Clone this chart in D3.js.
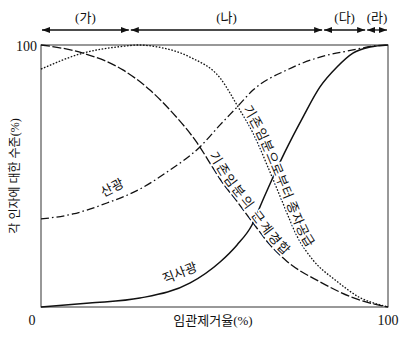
<!DOCTYPE html>
<html>
<head>
<meta charset="utf-8">
<script src="https://cdn.jsdelivr.net/npm/d3@7"></script>
<style>
    body { margin: 0; background: #fff; }
    svg { display: block; }
    text { font-family: "Liberation Serif", "Noto Sans CJK KR", serif; fill: #111; }
</style>
</head>
<body>
<svg id="grafico" width="406" height="337"></svg>
<script>
"use strict";

// 직사광 (실선)
var directLight = [[0, 0], [14, 1.5], [28.5, 3.4], [43, 9.2], [51.6, 17.2], [56.5, 23.7],
    [60.8, 31.3], [63.7, 40.1], [66.9, 49.6], [70.3, 59.2], [75.5, 72.5], [80.4, 84],
    [85.3, 91.6], [89.9, 96.9], [94.8, 99.2], [100, 100]];

// 산광 (일점쇄선)
var diffuseLight = [[0, 33.6], [9.2, 35.5], [19, 39.7], [28.5, 45], [36.3, 51.5], [45.8, 61.1],
    [51.6, 69.5], [56.5, 76.3], [61.1, 82.8], [70.9, 90.5], [80.4, 95.4], [89.9, 98.1],
    [95.7, 99.6], [100, 100]];

// 기존임분의 근계경합 (파선)
var rootCompetition = [[0, 100], [12.1, 96.9], [23.6, 90.5], [31.4, 82.8], [38, 74], [45, 62.6],
    [49.6, 53], [51.6, 48.8], [56.5, 40.3], [61.1, 32.1], [66, 23.7], [70.9, 17.4],
    [80.4, 9.6], [89.9, 3.6], [97.7, 0.6], [100, 0]];

// 기존임분으로부터 종자공급 (점선)
var seedSupply = [[0, 90.8], [12.1, 96.9], [23.6, 99.5], [28, 100], [33.4, 99.3], [42.9, 95.4],
    [51.6, 87.4], [57.3, 75.2], [61.1, 66.4], [66, 51.5], [69.7, 39.7], [73.8, 27],
    [78.4, 17.9], [85.3, 9.8], [91.9, 3.6], [98.6, 0.5], [100, 0]];

// 상단 구간 (가)~(라)
var regionBounds = [0, 25.6, 81.3, 93.7, 100];
var regionLabels = ["(가)", "(나)", "(다)", "(라)"];

var xTicks = [0, 100];
var yTicks = [100];

var svg = d3.select("#grafico");

var x = d3.scaleLinear().domain([0, 100]).range([41, 388]);
var y = d3.scaleLinear().domain([0, 100]).range([307, 45]);

// marcador de seta
var defs = svg.append("defs");
defs.append("marker")
    .attr("id", "seta")
    .attr("viewBox", "0 -4 8 8")
    .attr("markerUnits", "userSpaceOnUse")
    .attr("markerWidth", 8)
    .attr("markerHeight", 8)
    .attr("refX", 8)
    .attr("refY", 0)
    .attr("orient", "auto-start-reverse")
    .append("path")
    .attr("d", "M0,-3L8,0L0,3Z")
    .attr("fill", "#111");

// moldura
svg.append("rect")
    .attr("x", x(0))
    .attr("y", y(100))
    .attr("width", x(100) - x(0))
    .attr("height", y(0) - y(100))
    .attr("fill", "none")
    .attr("stroke", "#333")
    .attr("stroke-width", 1);

var linha = d3.line()
    .x(function (d) { return x(d[0]); })
    .y(function (d) { return y(d[1]); })
    .curve(d3.curveMonotoneX);

var series = [
    { id: "c-root", data: rootCompetition, dash: "9,2.5", width: 1.3 },
    { id: "c-seed", data: seedSupply, dash: "1.6,1.6", width: 1.3 },
    { id: "c-diffuse", data: diffuseLight, dash: "8,3,1.6,3", width: 1.3 },
    { id: "c-direct", data: directLight, dash: null, width: 1.5 }
];

svg.append("g")
    .selectAll("path")
    .data(series)
    .enter().append("path")
    .attr("id", function (d) { return d.id; })
    .attr("d", function (d) { return linha(d.data); })
    .attr("fill", "none")
    .attr("stroke", "#111")
    .attr("stroke-width", function (d) { return d.width; })
    .attr("stroke-dasharray", function (d) { return d.dash; });

// acha o comprimento do caminho onde x atinge o valor pedido
function offsetEm(id, valor) {
    var p = document.getElementById(id);
    var total = p.getTotalLength();
    var alvo = x(valor);
    for (var l = 0; l <= total; l += 0.5) {
        if (p.getPointAtLength(l).x >= alvo) return l;
    }
    return 0;
}

var curvaLabels = [
    { id: "c-root", text: "기존임분의 근계경합", start: 47.5, spacing: 1.8 },
    { id: "c-seed", text: "기존임분으로부터 종자공급", start: 57.3, spacing: 0.6 }
];

curvaLabels.forEach(function (c) {
    svg.append("text")
        .attr("dy", -3)
        .style("font-family", "'Noto Sans CJK KR', sans-serif")
        .style("font-size", "13px")
        .style("letter-spacing", c.spacing + "px")
        .attr("stroke", "#fff")
        .attr("stroke-width", 3)
        .attr("paint-order", "stroke")
        .append("textPath")
        .attr("href", "#" + c.id)
        .attr("startOffset", offsetEm(c.id, c.start))
        .text(c.text);
});

var retoLabels = [
    { text: "산광", px: 20.5, py: 45.5, angle: -27 },
    { text: "직사광", px: 40, py: 13, angle: -21 }
];

svg.selectAll(".reto")
    .data(retoLabels)
    .enter().append("text")
    .attr("class", "reto")
    .attr("transform", function (d) {
        return "translate(" + x(d.px) + "," + y(d.py) + ") rotate(" + d.angle + ")";
    })
    .attr("text-anchor", "middle")
    .attr("dy", "0.35em")
    .style("font-family", "'Noto Sans CJK KR', sans-serif")
    .style("font-size", "13px")
    .text(function (d) { return d.text; });

// setas do topo
var setas = svg.append("g");
regionLabels.forEach(function (lab, i) {
    var a = regionBounds[i], b = regionBounds[i + 1];
    setas.append("line")
        .attr("x1", x(a) + 1)
        .attr("x2", x(b) - 1)
        .attr("y1", 30)
        .attr("y2", 30)
        .attr("stroke", "#111")
        .attr("stroke-width", 1.3)
        .attr("marker-start", "url(#seta)")
        .attr("marker-end", "url(#seta)");
    setas.append("text")
        .attr("x", x((a + b) / 2))
        .attr("y", 17)
        .attr("dy", "0.35em")
        .attr("text-anchor", "middle")
        .style("font-size", "13px")
        .text(lab);
});

// rótulos dos eixos
svg.selectAll(".xtick")
    .data(xTicks)
    .enter().append("text")
    .attr("class", "xtick")
    .attr("x", function (d) { return d === 0 ? x(d) - 9 : x(d); })
    .attr("y", 320)
    .attr("dy", "0.35em")
    .attr("text-anchor", "middle")
    .style("font-size", "14px")
    .text(function (d) { return d; });

svg.selectAll(".ytick")
    .data(yTicks)
    .enter().append("text")
    .attr("class", "ytick")
    .attr("x", 37)
    .attr("y", function (d) { return y(d) + 1; })
    .attr("dy", "0.35em")
    .attr("text-anchor", "end")
    .style("font-size", "14px")
    .text(function (d) { return d; });

svg.append("text")
    .attr("x", 213)
    .attr("y", 320)
    .attr("dy", "0.35em")
    .attr("text-anchor", "middle")
    .style("font-size", "13px")
    .text("임관제거율(%)");

svg.append("text")
    .attr("transform", "translate(15,176) rotate(-90)")
    .attr("dy", "0.35em")
    .attr("text-anchor", "middle")
    .style("font-size", "12px")
    .text("각 인자에 대한 수준(%)");
</script>
</body>
</html>
